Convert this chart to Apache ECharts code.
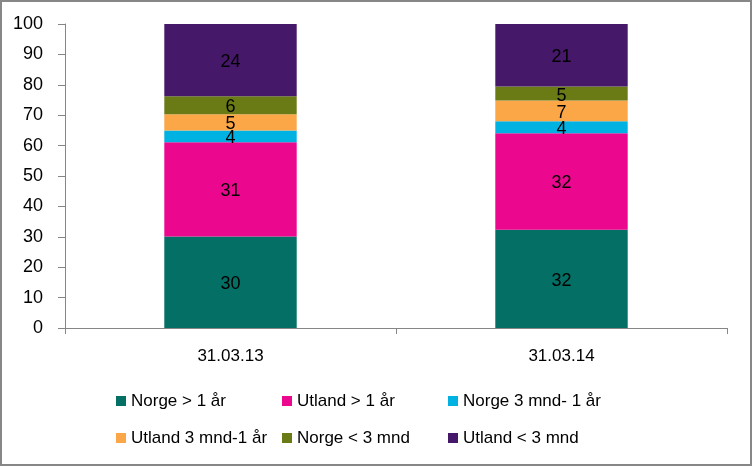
<!DOCTYPE html>
<html>
<head>
<meta charset="utf-8">
<script src="https://cdn.jsdelivr.net/npm/echarts@6/dist/echarts.min.js"></script>
<style>html,body{margin:0;padding:0;background:#fff}#c{width:752px;height:466px}</style>
</head>
<body>
<div id="c"></div>
<script>
const categories = ['31.03.13', '31.03.14'];
const seriesNames = ['Norge > 1 år', 'Utland > 1 år', 'Norge 3 mnd- 1 år', 'Utland 3 mnd-1 år', 'Norge < 3 mnd', 'Utland < 3 mnd'];
const norgeOver1 = [30.1, 32.3];
const utlandOver1 = [31.0, 31.8];
const norge3mnd1 = [3.9, 3.9];
const utland3mnd1 = [5.3, 6.8];
const norgeUnder3 = [5.9, 4.6];
const utlandUnder3 = [23.8, 20.6];
const yTicks = [0, 10, 20, 30, 40, 50, 60, 70, 80, 90, 100];

const colors = ['#036F65', '#EB078E', '#00B2E2', '#FBA647', '#6A7B16', '#461869'];
const values = [norgeOver1, utlandOver1, norge3mnd1, utland3mnd1, norgeUnder3, utlandUnder3];
const FONT = 'Liberation Sans';

const chart = echarts.init(document.getElementById('c'), null, {renderer: 'canvas'});
const legendLefts = [116, 282, 448];
const legendTops = [392, 429];
const legends = seriesNames.map((n, i) => ({
  data: [n],
  left: legendLefts[i % 3],
  top: legendTops[Math.floor(i / 3)],
  padding: 0,
  itemWidth: 10,
  itemHeight: 10,
  icon: 'rect',
  selectedMode: false,
  textStyle: {fontFamily: FONT, fontSize: 17, color: '#000', lineHeight: 18}
}));

chart.setOption({
  animation: false,
  color: colors,
  textStyle: {fontFamily: FONT},
  grid: {left: 65, right: 25, top: 24, bottom: 138, containLabel: false},
  legend: legends,
  graphic: [{
    type: 'rect', shape: {x: 1, y: 1, width: 750, height: 464},
    style: {fill: 'none', stroke: '#878787', lineWidth: 2}, z: 100
  }],
  xAxis: {
    type: 'category',
    data: categories,
    axisLine: {lineStyle: {color: '#868686', width: 1}},
    axisTick: {show: true, length: 6, lineStyle: {color: '#868686'}},
    axisLabel: {fontFamily: FONT, fontSize: 17, color: '#000', margin: 20}
  },
  yAxis: {
    type: 'value',
    min: yTicks[0], max: yTicks[yTicks.length - 1], interval: 10,
    splitLine: {show: false},
    axisLine: {show: true, lineStyle: {color: '#868686', width: 1}},
    axisTick: {show: true, length: 7, lineStyle: {color: '#868686'}},
    axisLabel: {fontFamily: FONT, fontSize: 18, color: '#000', margin: 22, padding: [4, 0, 0, 0]}
  },
  series: seriesNames.map((n, i) => ({
    name: n,
    type: 'bar',
    stack: 'total',
    barWidth: '40%',
    data: values[i],
    itemStyle: {color: colors[i]},
    label: {
      show: true, position: 'inside', color: '#000',
      fontFamily: FONT, fontSize: 18, offset: [0, 2],
      formatter: p => Math.round(p.value)
    }
  }))
});
</script>
</body>
</html>
